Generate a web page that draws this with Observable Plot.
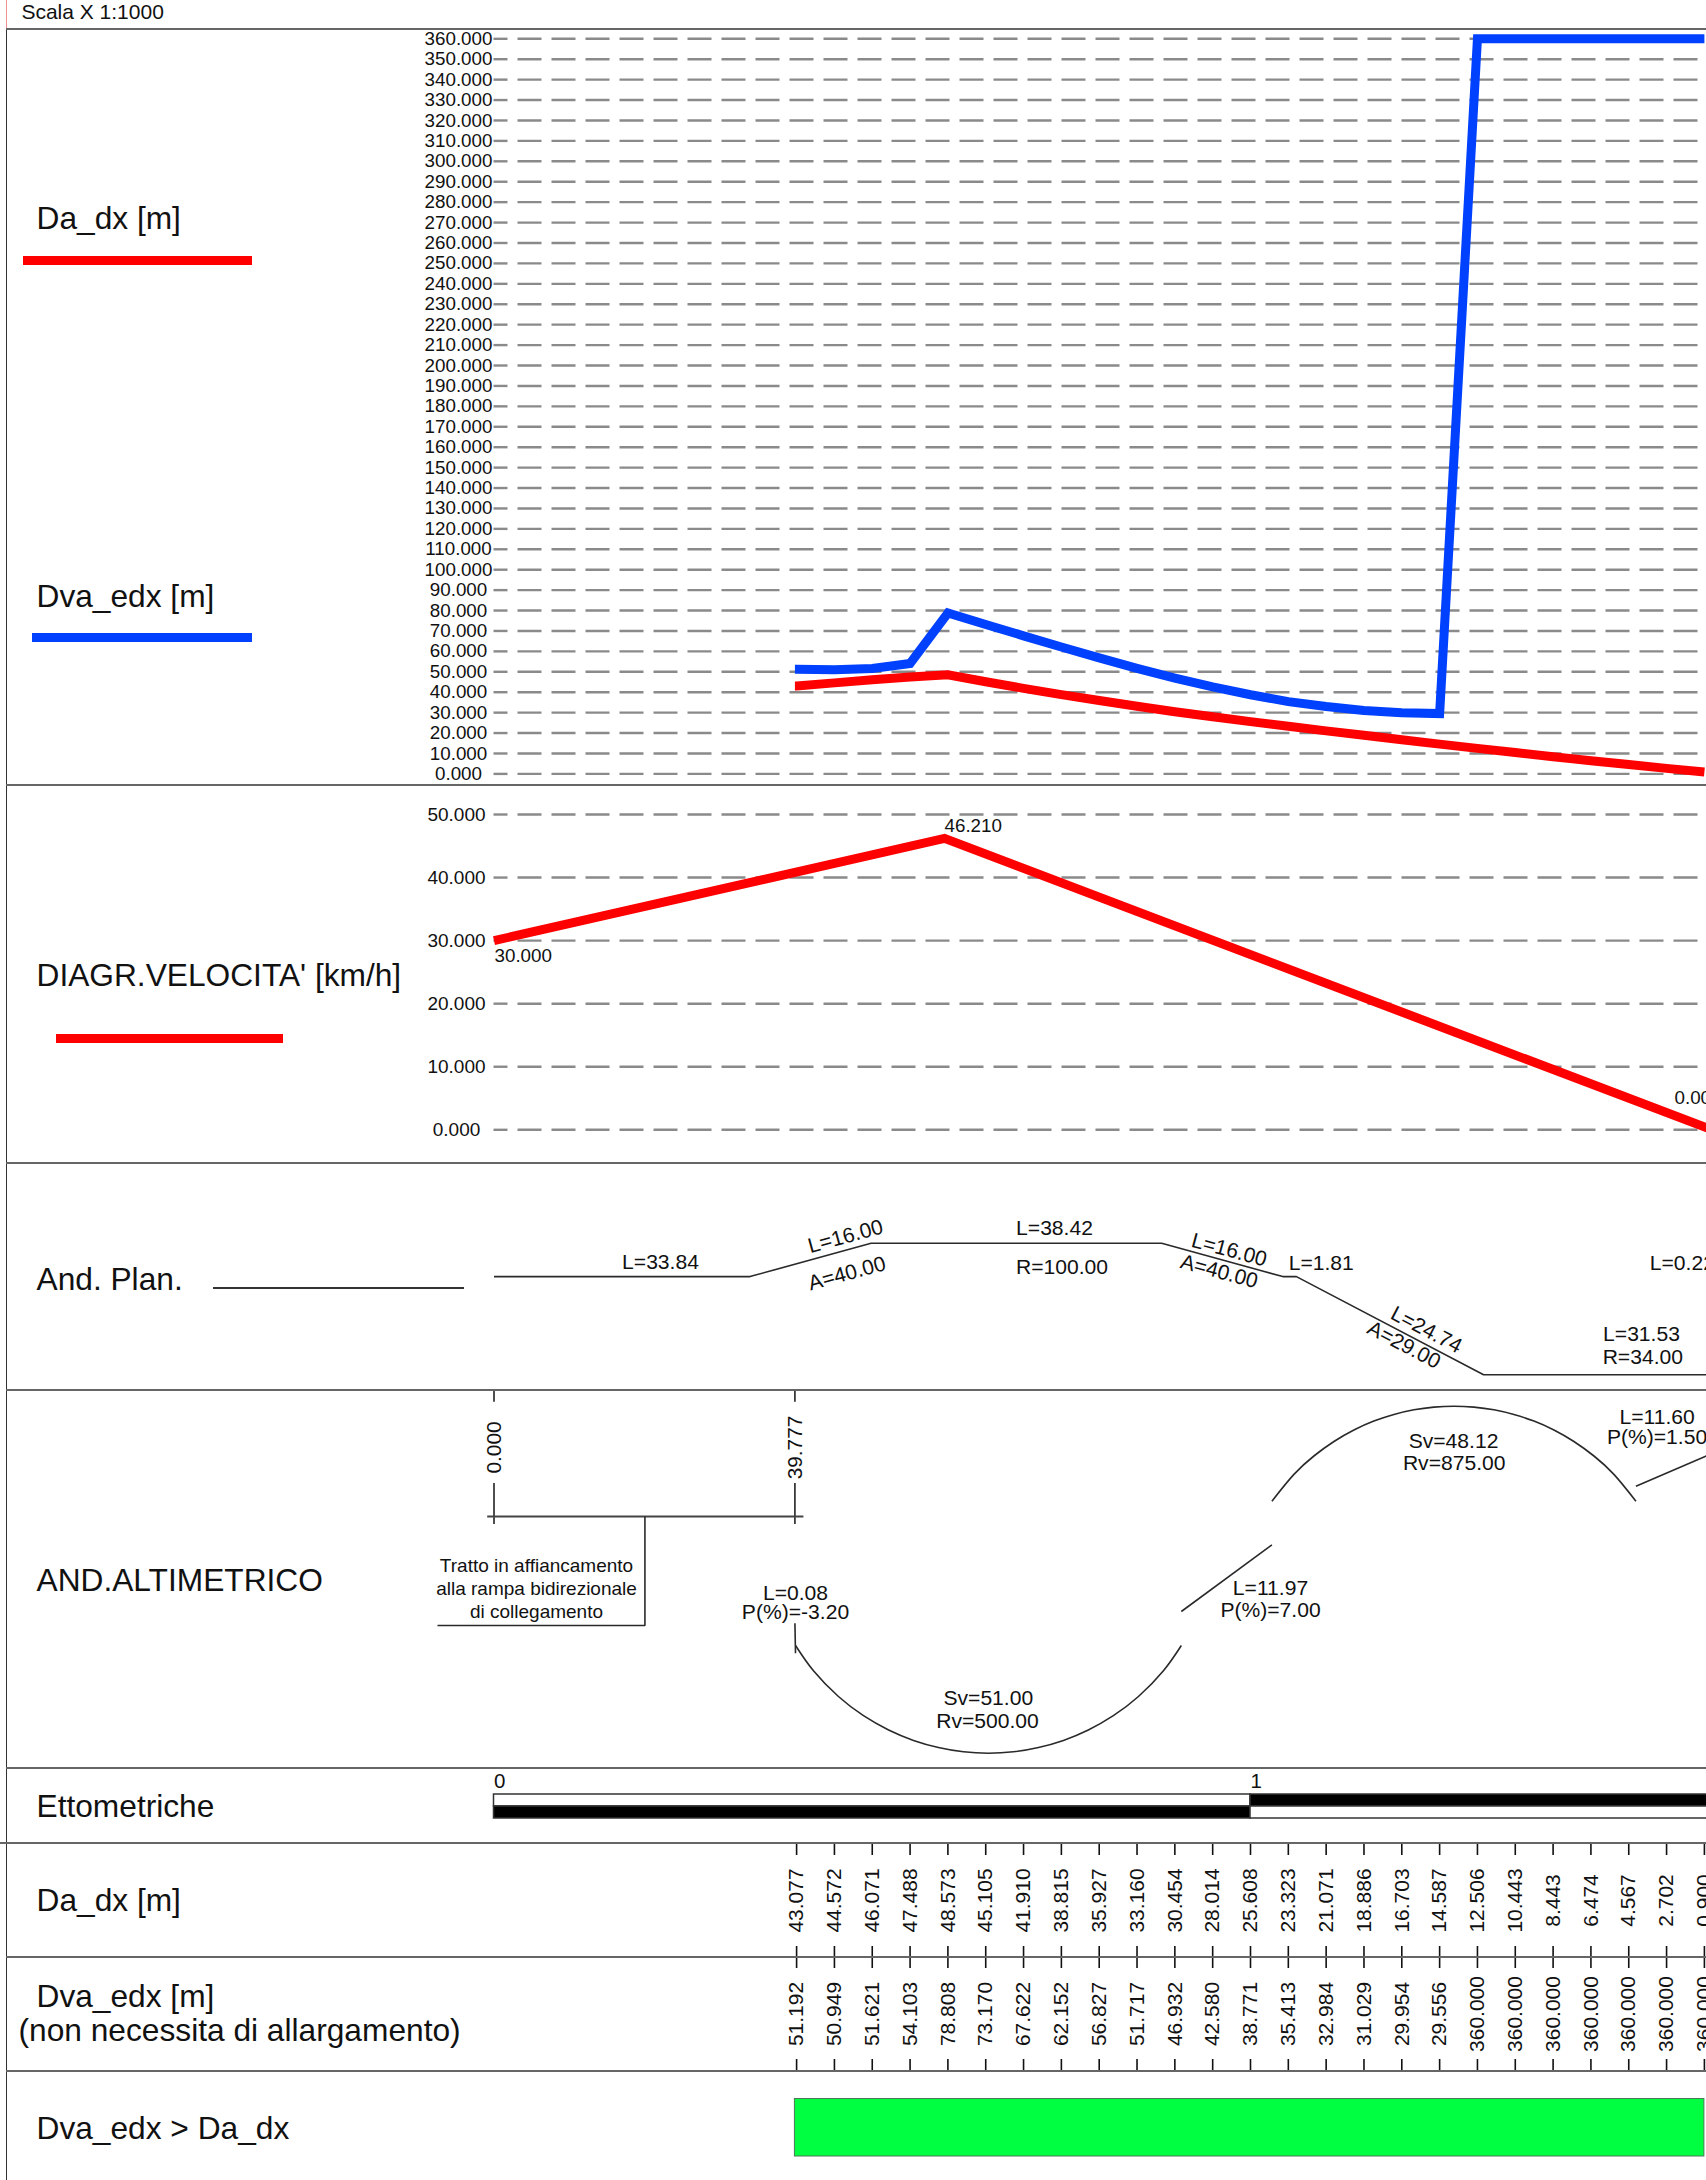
<!DOCTYPE html>
<html><head><meta charset="utf-8">
<script src="https://cdn.jsdelivr.net/npm/d3@7"></script>
<script src="https://cdn.jsdelivr.net/npm/@observablehq/plot@0.6"></script>
<style>
html,body{margin:0;padding:0;background:#fff;width:1706px;height:2180px;overflow:hidden}
#page{position:relative;width:1706px;height:2180px;overflow:hidden;font-family:"Liberation Sans",Arial,sans-serif}
#page svg{position:absolute;left:0;display:block;background:transparent;max-width:none}
.ln{position:absolute}
</style></head><body><div id="page"></div>
<script>
// ---- data ----
const stations = [40,45,50,55,60,65,70,75,80,85,90,95,100,105,110,115,120,125,130,135,140,145,150,155,160];
const daDx = [43.077,44.572,46.071,47.488,48.573,45.105,41.910,38.815,35.927,33.160,30.454,28.014,25.608,23.323,21.071,18.886,16.703,14.587,12.506,10.443,8.443,6.474,4.567,2.702,0.900];
const dvaEdx = [51.192,50.949,51.621,54.103,78.808,73.170,67.622,62.152,56.827,51.717,46.932,42.580,38.771,35.413,32.984,31.029,29.954,29.556,360,360,360,360,360,360,360];
const distTicks = d3.range(0,370,10);
const speedTicks = [0,10,20,30,40,50];
const speedStation = [0,59.55,161];
const speedValue = [30,46.21,0];
const planStation = [0,33.84,49.84,88.26,104.26,106.07,130.81,162.34];
const planCurvature = [0,0,1/100,1/100,0,0,-1/34,-1/34];
const startStation = 39.777;
const endStation = 160;
const sagStation = [39.857,42.23,45.53,48.84,52.16,55.45,58.75,62.06,65.36,68.66,71.97,75.27,78.56,81.87,85.19,88.49,90.857];
const sagLevel = [255,280.3,306,325.2,339.5,349.9,357,361.3,362.7,361.3,357,349.9,339.5,325.2,306,280.3,255];
const crestStation = [102.83,105.74,108.38,111.03,113.67,116.31,118.96,121.6,124.25,126.89,129.53,132.18,134.82,137.47,140.11,142.75,145.4,148.04,150.95];
const crestLevel = [110.7,83.9,65.5,51,39.5,30.6,24,19.3,16.6,15.7,16.6,19.3,24,30.6,39.5,51,65.5,83.9,110.7];
const ettoStart = [0,100];
const ettoEnd = [100,200];

// ---- layout helpers ----
const FONT = '"Liberation Sans",Arial,sans-serif';
const X0 = 493.5, X1 = 1706, PX = 7.565;
const page = document.getElementById("page");
function panel(top, height, y, marks){
  const svg = Plot.plot({
    width:1706, height, marginLeft:X0, marginRight:0, marginTop:0, marginBottom:0,
    x:{domain:[0,(X1-X0)/PX], range:[X0,X1], axis:null},
    y, style:{fontFamily:FONT, background:"transparent", color:"#111"},
    marks
  });
  svg.style.top = top+"px";
  page.appendChild(svg);
}
const levels = h => ({domain:[0,h], range:[0,h], axis:null});
function note(top, text, px, py, size=21.1, opt={}){
  return Plot.text([text],{text:d=>d, frameAnchor:"top-left", dx:px-X0, dy:py-top, fontSize:size,
    textAnchor:"middle", lineAnchor:"middle", fill:"#111", ...opt});
}
const side = (top,text,px,py)=>note(top,text,px,py,31.7,{textAnchor:"start"});
const grid = t => Plot.ruleY(t,{stroke:"#8a8a8a",strokeWidth:2.4,strokeDasharray:"24 10",strokeDashoffset:10});
const thick = (s,v,c,w)=>Plot.line(s.map((d,i)=>[d,v[i]]),{x:d=>d[0],y:d=>d[1],stroke:c,strokeWidth:w,strokeLinejoin:"miter",strokeLinecap:"butt",strokeMiterlimit:8});
const thin = (pts,opt={})=>Plot.line(pts,{x:d=>d[0],y:d=>d[1],stroke:"#2a2a2a",strokeWidth:1.6,strokeLinecap:"butt",...opt});

// ---- panel: distances ----
let T=10;
panel(T,775,{domain:[0,360],range:[773.4-T,38.3-T]},[
  grid(distTicks),
  Plot.axisY(distTicks,{tickSize:0,tickPadding:35.5,textAnchor:"middle",fontSize:18.8,label:null,tickFormat:d=>d.toFixed(3),fill:"#111"}),
  thick([startStation,...stations],[daDx[0],...daDx],"#ff0000",9),
  thick([startStation,...stations],[dvaEdx[0],...dvaEdx],"#0040ff",9),
  side(T,"Da_dx [m]",36,218),
  side(T,"Dva_edx [m]",36,596.5)
]);

// ---- panel: speed ----
T=785;
panel(T,378,{domain:[0,50],range:[1129.3-T,814-T]},[
  grid(speedTicks),
  Plot.axisY(speedTicks,{tickSize:0,tickPadding:37.5,textAnchor:"middle",fontSize:19,label:null,tickFormat:d=>d.toFixed(3),fill:"#111"}),
  thick(speedStation,speedValue,"#ff0000",9),
  side(T,"DIAGR.VELOCITA' [km/h]",36,975),
  note(T,"30.000",494,955,18.8,{textAnchor:"start"}),
  note(T,"46.210",944,825,18.8,{textAnchor:"start"}),
  note(T,"0.000",1674,1097,18.8,{textAnchor:"start"})
]);

// ---- panel: plan ----
T=1163;
panel(T,227,{domain:[-1/34,1/100],range:[1374.3-T,1242.7-T],axis:null},[
  thin(planStation.map((d,i)=>[d,planCurvature[i]])),
  side(T,"And. Plan.",36,1279),
  note(T,"L=33.84",660,1262),
  note(T,"L=16.00",845,1236,21.1,{rotate:-15.4}),
  note(T,"A=40.00",846.5,1273,21.1,{rotate:-15.4}),
  note(T,"L=38.42",1054,1228),
  note(T,"R=100.00",1061.5,1266.6),
  note(T,"L=16.00",1228.7,1249.5,21.1,{rotate:15}),
  note(T,"A=40.00",1218.7,1271,21.1,{rotate:15}),
  note(T,"L=1.81",1320.7,1262.3),
  note(T,"L=24.74",1425.9,1329.3,21.1,{rotate:27.7}),
  note(T,"A=29.00",1403.4,1344.3,21.1,{rotate:27.7}),
  note(T,"L=31.53",1641,1334),
  note(T,"R=34.00",1642.3,1356.7),
  note(T,"L=0.22",1649.3,1262.3,21.1,{textAnchor:"start"})
]);

// ---- panel: profile ----
T=1390;
panel(T,378,levels(378),[
  Plot.ruleX([0,startStation],{x:d=>d,y1:0,y2:11.7,stroke:"#222",strokeWidth:1.6}),
  Plot.ruleX([0,startStation],{x:d=>d,y1:93,y2:134,stroke:"#222",strokeWidth:1.6}),
  thin([[-0.9,126],[40.9,126]],{strokeWidth:2,stroke:"#444"}),
  thin([[19.95,126],[19.95,235],[-7.47,235]],{strokeLinejoin:"miter"}),
  Plot.text([0,startStation],{x:d=>d,y:()=>57,text:d=>d.toFixed(3),rotate:-90,fontSize:20.8,fill:"#111"}),
  note(T,"Tratto in affiancamento",536,1565,19),
  note(T,"alla rampa bidirezionale",536,1588,19),
  note(T,"di collegamento",536,1611,19),
  side(T,"AND.ALTIMETRICO",36,1580),
  note(T,"L=0.08",795,1592.7),
  note(T,"P(%)=-3.20",795,1612),
  thin([[39.777,232.7],[39.857,262.7]]),
  thin(sagStation.map((d,i)=>[d,sagLevel[i]]),{curve:"natural"}),
  note(T,"Sv=51.00",987.8,1697.3),
  note(T,"Rv=500.00",987,1721),
  thin([[90.857,221],[102.83,154.3]]),
  note(T,"L=11.97",1270,1587.6),
  note(T,"P(%)=7.00",1270,1610),
  thin(crestStation.map((d,i)=>[d,crestLevel[i]]),{curve:"natural"}),
  note(T,"Sv=48.12",1453,1440.7),
  note(T,"Rv=875.00",1453.7,1462.7),
  thin([[150.95,95.7],[162.55,58]]),
  note(T,"L=11.60",1656.6,1416.7),
  note(T,"P(%)=1.50",1606.4,1436.7,21.1,{textAnchor:"start"})
]);

// ---- panel: hectometric bar ----
T=1768;
panel(T,75,levels(75),[
  Plot.rect([0,1],{x1:i=>ettoStart[i],x2:i=>ettoEnd[i],y1:()=>26,y2:()=>38,fill:i=>i?"#000":"#fff",stroke:"#333",strokeWidth:1.5}),
  Plot.rect([0,1],{x1:i=>ettoStart[i],x2:i=>ettoEnd[i],y1:()=>38,y2:()=>50,fill:i=>i?"#fff":"#000",stroke:"#333",strokeWidth:1.5}),
  Plot.text(ettoStart,{x:d=>d,y:()=>12.7,text:d=>String(d/100),textAnchor:"start",fontSize:20.5,fill:"#111"}),
  side(T,"Ettometriche",36,1806)
]);

// ---- panel: Da_dx table ----
T=1843;
panel(T,114,levels(114),[
  Plot.ruleX(stations,{x:d=>d,y1:0,y2:12,stroke:"#111",strokeWidth:1.6}),
  Plot.ruleX(stations,{x:d=>d,y1:103,y2:114,stroke:"#111",strokeWidth:1.6}),
  Plot.text(daDx,{x:(d,i)=>stations[i],y:()=>57,text:d=>d.toFixed(3),rotate:-90,fontSize:21,fill:"#111"}),
  side(T,"Da_dx [m]",36,1900.5)
]);

// ---- panel: Dva_edx table ----
T=1957;
panel(T,114,levels(114),[
  Plot.ruleX(stations,{x:d=>d,y1:0,y2:11,stroke:"#111",strokeWidth:1.6}),
  Plot.ruleX(stations,{x:d=>d,y1:102,y2:114,stroke:"#111",strokeWidth:1.6}),
  Plot.text(dvaEdx,{x:(d,i)=>stations[i],y:()=>56.5,text:d=>d.toFixed(3),rotate:-90,fontSize:21,fill:"#111"}),
  side(T,"Dva_edx [m]",36,1996),
  side(T,"(non necessita di allargamento)",18,2030)
]);

// ---- panel: check ----
T=2071;
panel(T,109,levels(109),[
  Plot.rect([0],{x1:()=>startStation,x2:()=>endStation,y1:()=>27.5,y2:()=>85,fill:"#00ff40",stroke:"#4a7a55",strokeWidth:1}),
  side(T,"Dva_edx > Da_dx",36,2128)
]);

// ---- sheet frame, separators, legend swatches, header ----
function box(l,t,w,h,c){const d=document.createElement("div");d.className="ln";d.style.cssText=`left:${l}px;top:${t}px;width:${w}px;height:${h}px;background:${c}`;page.appendChild(d);}
box(6,0,1,29,"#f09090");
box(5.5,29,1.5,2151,"#333");
[29.3,785.3,1163.3,1390,1768.3,1957,2070.7].forEach(y=>box(6,y-1,1700,2,"#666"));
box(0,1842.3,1706,2,"#666");
box(23,255.5,229,9,"#ff0000");
box(32,633,220,9,"#0040ff");
box(55.5,1033.5,227.5,9,"#ff0000");
box(212.5,1286.5,251.5,2,"#333");
const hd=document.createElement("div");
hd.textContent="Scala X 1:1000";
hd.style.cssText='position:absolute;left:21.4px;top:0;line-height:24px;font-size:21px;color:#111';
page.appendChild(hd);
</script></body></html>
